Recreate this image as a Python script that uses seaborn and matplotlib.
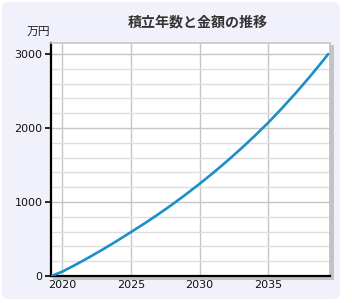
import numpy as np
import pandas as pd
import matplotlib
matplotlib.use("Agg")
import matplotlib.pyplot as plt
import seaborn as sns
from matplotlib.patches import FancyBboxPatch
from matplotlib.ticker import MultipleLocator

# Data
years = [2019.2, 2020, 2021, 2022, 2023, 2024, 2025, 2026, 2027, 2028, 2029,
         2030, 2031, 2032, 2033, 2034, 2035, 2036, 2037, 2038, 2039, 2039.36]
amounts = [0, 58, 155, 257, 364, 476, 593, 711, 835, 965, 1102,
           1245, 1395, 1552, 1717, 1890, 2071, 2266, 2471, 2686, 2911, 2998]
title = "積立年数と金額の推移"
unit_label = "万円"
x_ticks = [2020, 2025, 2030, 2035]
y_ticks = [0, 1000, 2000, 3000]

df = pd.DataFrame({"year": years, "amount": amounts})

sns.set_theme(style="white")
plt.rcParams['font.family'] = ['Noto Sans CJK JP', 'DejaVu Sans']

W, H = 352, 303
fig = plt.figure(figsize=(W / 100, H / 100), dpi=100)
fig.patch.set_facecolor("white")

# Rounded panel background
bg = fig.add_axes([0, 0, 1, 1], zorder=0)
bg.set_xlim(0, W)
bg.set_ylim(H, 0)
bg.axis("off")
bg.add_patch(FancyBboxPatch((2, 2), 338, 297,
                            boxstyle="round,pad=0,rounding_size=7",
                            facecolor="#f1f1fb", edgecolor="none"))

left, right, top, bottom = 51, 330, 42.7, 276
# shadow behind axes
bg.add_patch(plt.Rectangle((left + 2, top + 2), right - left + 1.8, bottom - top + 1.8,
                           facecolor="#c4c4c8", edgecolor="none"))

ax = fig.add_axes([left / W, 1 - bottom / H, (right - left) / W, (bottom - top) / H],
                  zorder=2)
ax.set_facecolor("white")

sns.lineplot(data=df, x="year", y="amount", ax=ax, color="#1b8fc6", lw=1.9, zorder=3)

ax.set_xlim(2019.18, 2039.5)
ax.set_ylim(0, 3152)
ax.set_xticks(x_ticks)
ax.set_xticklabels([str(v) for v in x_ticks])
ax.set_yticks(y_ticks)
ax.set_yticklabels([str(v) for v in y_ticks])
ax.yaxis.set_minor_locator(MultipleLocator(200))

ax.grid(which="major", axis="both", color="#c6c6c6", lw=1.0)
ax.grid(which="minor", axis="y", color="#dedede", lw=1.0)
ax.set_axisbelow(True)

ax.set_xlabel("")
ax.set_ylabel("")
ax.tick_params(axis="y", which="major", direction="out", length=4, width=1.2,
               color="black", labelsize=8, pad=2, left=True)
ax.tick_params(axis="y", which="minor", length=0)
ax.tick_params(axis="x", which="major", length=0, labelsize=8, pad=3)
for lab in ax.get_xticklabels() + ax.get_yticklabels():
    lab.set_family("DejaVu Sans")
    lab.set_color("#111111")

for s in ["left", "bottom"]:
    ax.spines[s].set_color("black")
    ax.spines[s].set_linewidth(1.6)
ax.spines["top"].set_color("#c8c8c8")
ax.spines["top"].set_linewidth(1.2)
ax.spines["right"].set_color("#c0c0c0")
ax.spines["right"].set_linewidth(1.2)

fig.text(198 / W, 1 - 22.5 / H, title, ha="center", va="center",
         fontsize=10.1, fontweight="bold", color="#333333")
fig.text(38 / W, 1 - 31 / H, unit_label, ha="center", va="center",
         fontsize=8.5, color="#222222")

fig.savefig("out.png", dpi=100, facecolor="white")
